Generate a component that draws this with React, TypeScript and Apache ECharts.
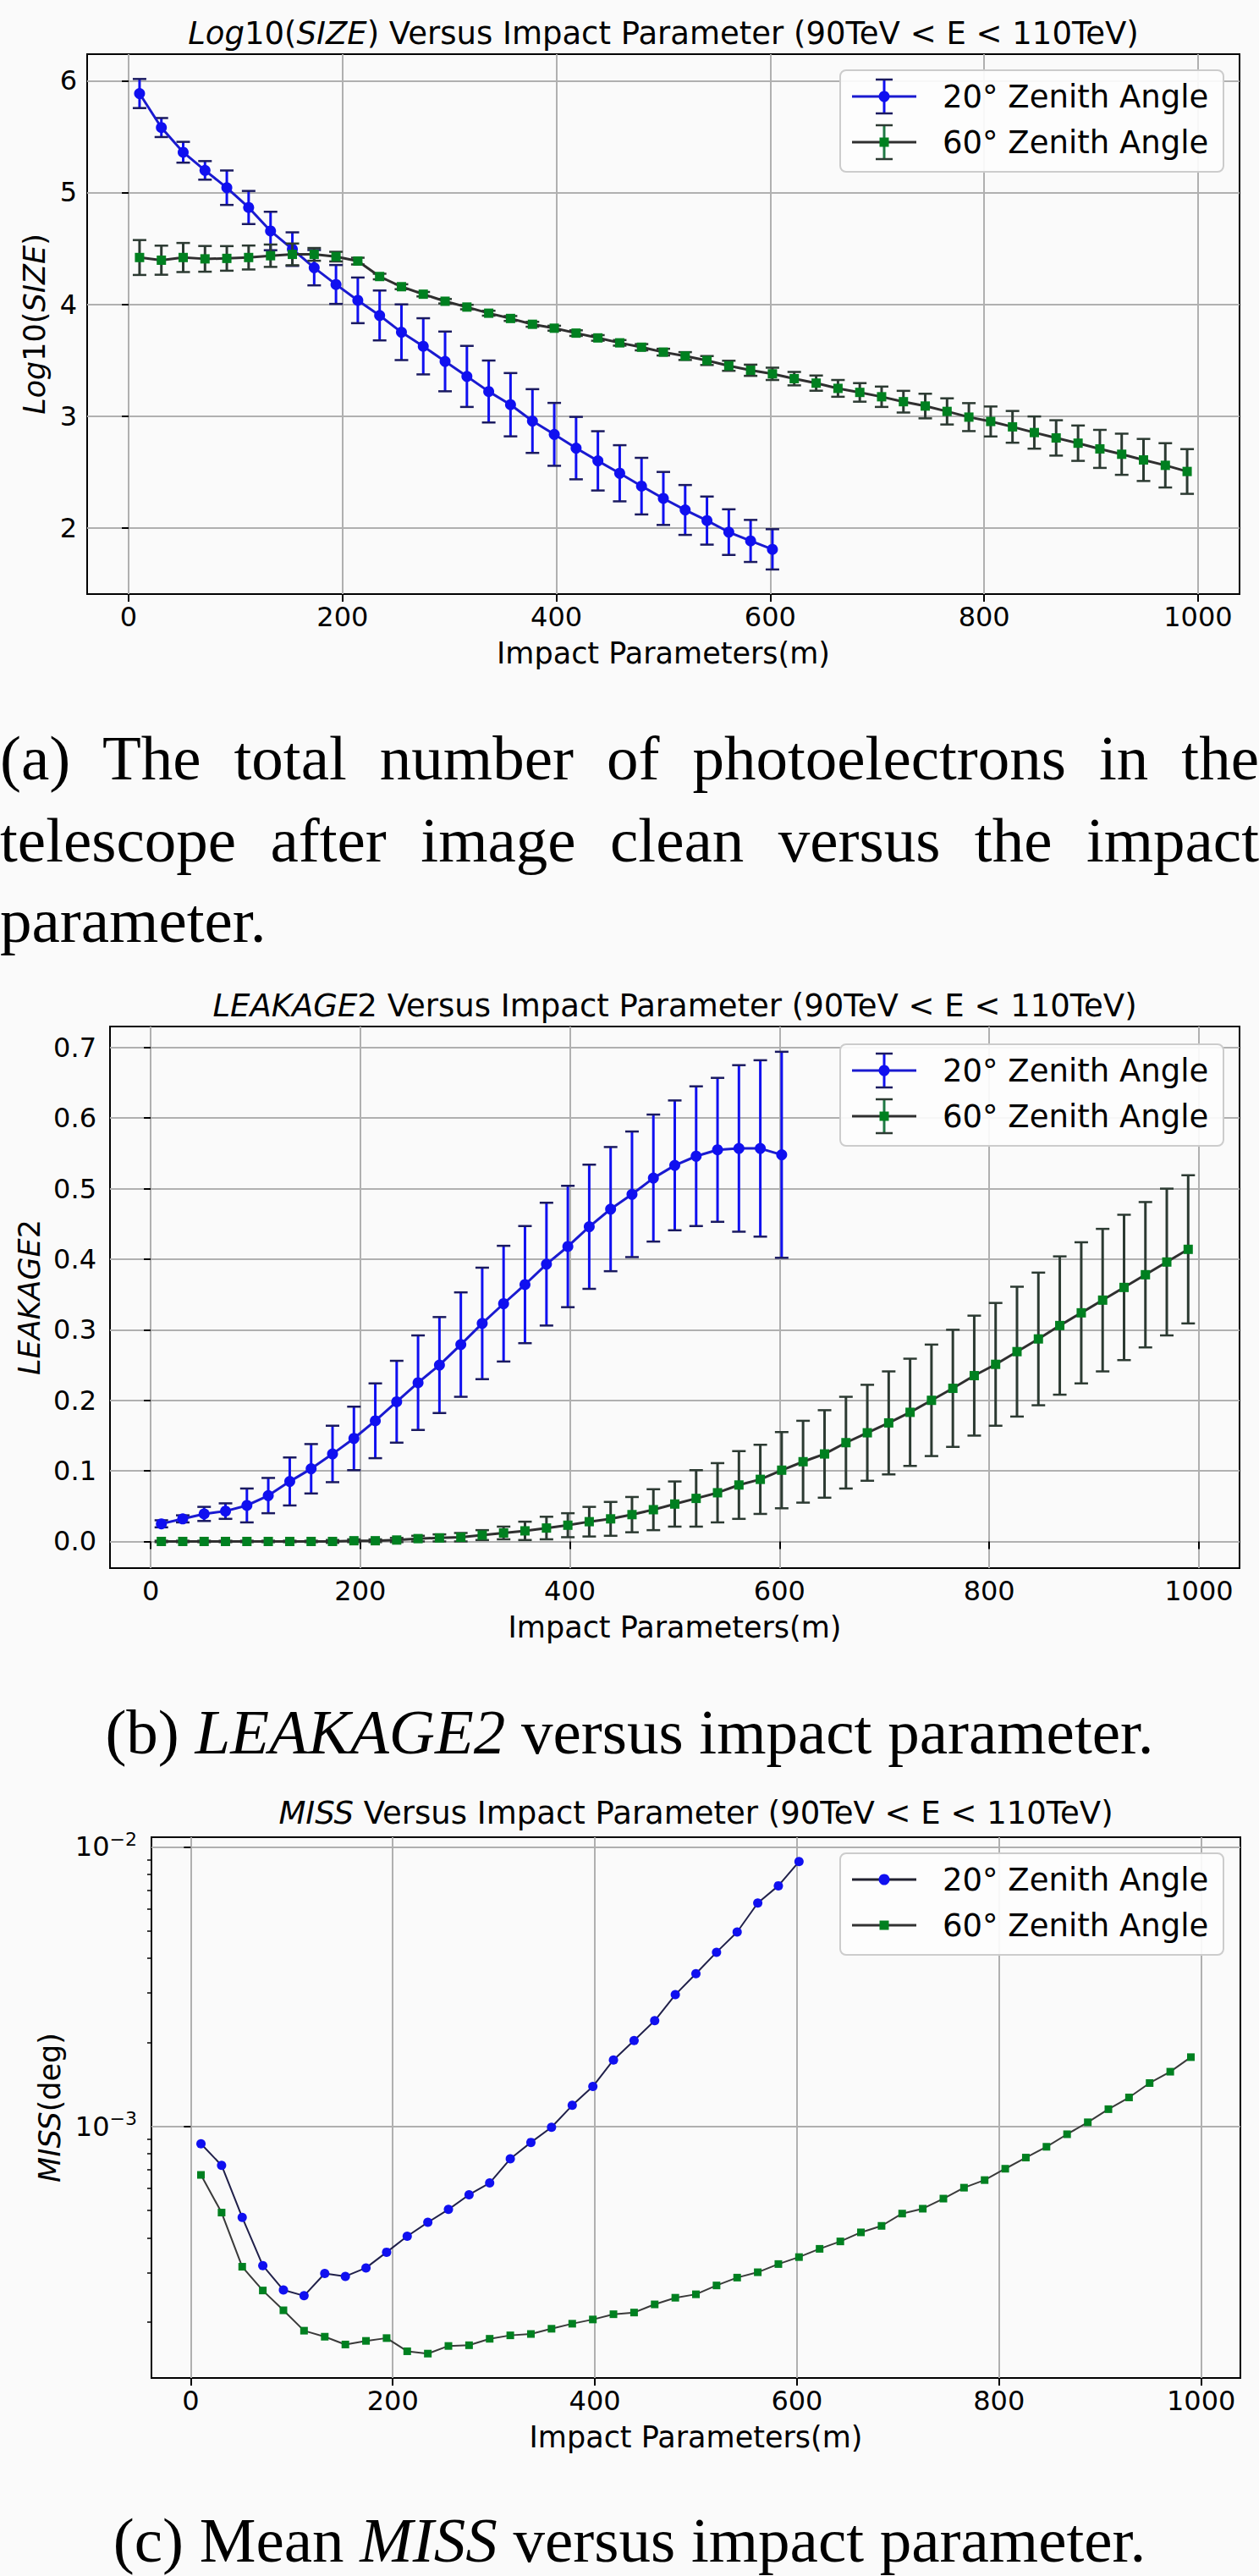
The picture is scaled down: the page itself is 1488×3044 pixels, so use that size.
import React, { useEffect, useRef } from "react";
import * as echarts from "echarts";

// ---------- data ----------
const impact = [10.2, 30.6, 51.0, 71.4, 91.8, 112.2, 132.7, 153.1, 173.5, 193.9, 214.3, 234.7, 255.1, 275.5, 295.9, 316.3, 336.7, 357.1, 377.6, 398.0, 418.4, 438.8, 459.2, 479.6, 500.0, 520.4, 540.8, 561.2, 581.6, 602.0, 622.4, 642.9, 663.3, 683.7, 704.1, 724.5, 744.9, 765.3, 785.7, 806.1, 826.5, 846.9, 867.3, 887.8, 908.2, 928.6, 949.0, 969.4, 989.8];

const size20 = [5.885, 5.581, 5.360, 5.198, 5.043, 4.866, 4.656, 4.494, 4.328, 4.178, 4.036, 3.901, 3.751, 3.625, 3.490, 3.356, 3.221, 3.103, 2.957, 2.838, 2.715, 2.601, 2.490, 2.375, 2.265, 2.162, 2.067, 1.964, 1.885, 1.810];
const size20Err = [0.130, 0.085, 0.093, 0.083, 0.154, 0.148, 0.172, 0.150, 0.158, 0.174, 0.204, 0.223, 0.249, 0.251, 0.267, 0.273, 0.277, 0.283, 0.285, 0.281, 0.279, 0.265, 0.251, 0.253, 0.237, 0.223, 0.215, 0.204, 0.188, 0.180];
const size60 = [4.419, 4.395, 4.419, 4.407, 4.411, 4.419, 4.435, 4.447, 4.447, 4.427, 4.387, 4.249, 4.158, 4.091, 4.028, 3.976, 3.921, 3.874, 3.822, 3.787, 3.743, 3.700, 3.656, 3.617, 3.573, 3.538, 3.498, 3.451, 3.411, 3.379, 3.336, 3.296, 3.249, 3.213, 3.174, 3.130, 3.091, 3.043, 2.992, 2.953, 2.905, 2.854, 2.806, 2.759, 2.708, 2.660, 2.609, 2.561, 2.506];
const size60Err = [0.156, 0.130, 0.130, 0.115, 0.110, 0.107, 0.100, 0.097, 0.057, 0.043, 0.030, 0.025, 0.022, 0.020, 0.020, 0.020, 0.022, 0.022, 0.022, 0.022, 0.025, 0.025, 0.025, 0.028, 0.030, 0.035, 0.040, 0.045, 0.050, 0.055, 0.060, 0.068, 0.075, 0.083, 0.091, 0.097, 0.110, 0.117, 0.125, 0.134, 0.142, 0.144, 0.158, 0.158, 0.170, 0.184, 0.188, 0.198, 0.200];

const leak20 = [0.025, 0.032, 0.039, 0.043, 0.051, 0.065, 0.085, 0.103, 0.124, 0.146, 0.171, 0.198, 0.225, 0.250, 0.279, 0.309, 0.337, 0.364, 0.393, 0.418, 0.446, 0.471, 0.492, 0.515, 0.533, 0.546, 0.555, 0.557, 0.557, 0.548];
const leak20Err = [0.005, 0.005, 0.010, 0.011, 0.024, 0.025, 0.034, 0.035, 0.040, 0.045, 0.053, 0.058, 0.067, 0.068, 0.074, 0.079, 0.082, 0.083, 0.087, 0.086, 0.088, 0.088, 0.089, 0.090, 0.092, 0.099, 0.102, 0.118, 0.125, 0.146];
const leak60 = [0.000, 0.000, 0.000, 0.000, 0.000, 0.000, 0.000, 0.000, 0.000, 0.001, 0.001, 0.002, 0.004, 0.005, 0.006, 0.009, 0.012, 0.015, 0.019, 0.023, 0.028, 0.032, 0.038, 0.045, 0.053, 0.061, 0.069, 0.080, 0.088, 0.101, 0.113, 0.124, 0.140, 0.154, 0.168, 0.183, 0.200, 0.217, 0.235, 0.251, 0.269, 0.287, 0.306, 0.324, 0.342, 0.360, 0.378, 0.396, 0.414];
const leak60Err = [0.001, 0.001, 0.001, 0.001, 0.001, 0.001, 0.001, 0.001, 0.002, 0.002, 0.002, 0.003, 0.004, 0.005, 0.006, 0.007, 0.009, 0.013, 0.016, 0.017, 0.021, 0.024, 0.025, 0.029, 0.032, 0.040, 0.042, 0.048, 0.049, 0.054, 0.058, 0.062, 0.065, 0.068, 0.073, 0.076, 0.079, 0.083, 0.085, 0.087, 0.092, 0.094, 0.098, 0.100, 0.101, 0.103, 0.103, 0.104, 0.105];

const miss20 = [8.67e-4, 7.26e-4, 4.73e-4, 3.18e-4, 2.60e-4, 2.48e-4, 2.98e-4, 2.91e-4, 3.12e-4, 3.55e-4, 4.05e-4, 4.54e-4, 5.05e-4, 5.70e-4, 6.28e-4, 7.66e-4, 8.77e-4, 9.93e-4, 1.19e-3, 1.39e-3, 1.73e-3, 2.03e-3, 2.39e-3, 2.96e-3, 3.52e-3, 4.20e-3, 4.96e-3, 6.30e-3, 7.26e-3, 8.86e-3];
const miss60 = [6.71e-4, 4.92e-4, 3.15e-4, 2.59e-4, 2.20e-4, 1.86e-4, 1.77e-4, 1.66e-4, 1.71e-4, 1.75e-4, 1.57e-4, 1.54e-4, 1.64e-4, 1.65e-4, 1.74e-4, 1.79e-4, 1.81e-4, 1.89e-4, 1.97e-4, 2.04e-4, 2.13e-4, 2.16e-4, 2.31e-4, 2.44e-4, 2.51e-4, 2.70e-4, 2.88e-4, 3.01e-4, 3.22e-4, 3.41e-4, 3.65e-4, 3.88e-4, 4.18e-4, 4.41e-4, 4.88e-4, 5.08e-4, 5.52e-4, 6.04e-4, 6.43e-4, 7.06e-4, 7.74e-4, 8.46e-4, 9.38e-4, 1.035e-3, 1.153e-3, 1.27e-3, 1.43e-3, 1.57e-3, 1.77e-3];

const xTicks = [0, 200, 400, 600, 800, 1000];
const sizeTicks = [2, 3, 4, 5, 6];
const leakTicks = [0, 0.1, 0.2, 0.3, 0.4, 0.5, 0.6, 0.7];
const missTicks = [0.001, 0.01];
const missMinorTicks = [2e-4, 3e-4, 4e-4, 5e-4, 6e-4, 7e-4, 8e-4, 9e-4, 2e-3, 3e-3, 4e-3, 5e-3, 6e-3, 7e-3, 8e-3, 9e-3];
const legendNames = ["20° Zenith Angle", "60° Zenith Angle"];

// ---------- styling ----------
const FONT = '"DejaVu Sans", Verdana, sans-serif';
const SERIF = '"Liberation Serif", "Times New Roman", serif';
const BG = "#fafafa";
const GRIDS = [
  { left: 103, top: 64, right: 1465, bottom: 702 },
  { left: 130, top: 1213, right: 1465, bottom: 1853 },
  { left: 179, top: 2171, right: 1466, bottom: 2810 },
];
const BLUE = "#1010f0";
const BLUE_LINE = "#1a1ad0";
const BLUE_CAP = "#1a1a60";
const GREEN = "#008020";
const DARK_LINE = "#2f2f2f";
const GREEN_ERR = "#2c3a32";
const LZ = 100;

const italicRich = (size: number) => ({
  i: { fontStyle: "italic", fontSize: size, fontFamily: FONT, color: "#000" },
});

function pairs(xs: number[], ys: number[]) {
  return ys.map((y, i) => [xs[i], y]);
}
function errData(xs: number[], ys: number[], es: number[]) {
  return ys.map((y, i) => [xs[i], y - es[i], y + es[i]]);
}

function errSeries(idx: number, data: number[][], bar: string, cap: string, z: number) {
  return {
    type: "custom",
    xAxisIndex: idx,
    yAxisIndex: idx,
    z,
    silent: true,
    encode: { x: 0, y: [1, 2] },
    data,
    renderItem: (_params: any, api: any) => {
      const x = api.value(0);
      const a = api.coord([x, api.value(1)]);
      const b = api.coord([x, api.value(2)]);
      const hw = 8;
      return {
        type: "group",
        children: [
          { type: "line", shape: { x1: a[0], y1: a[1], x2: b[0], y2: b[1] }, style: { stroke: bar, lineWidth: 3 } },
          { type: "line", shape: { x1: a[0] - hw, y1: a[1], x2: a[0] + hw, y2: a[1] }, style: { stroke: cap, lineWidth: 2.5 } },
          { type: "line", shape: { x1: b[0] - hw, y1: b[1], x2: b[0] + hw, y2: b[1] }, style: { stroke: cap, lineWidth: 2.5 } },
        ],
      };
    },
  };
}

function lineSeries(idx: number, name: string, data: number[][], color: string, lineColor: string, symbol: string, size: number, width: number, z: number) {
  return {
    type: "line",
    name,
    xAxisIndex: idx,
    yAxisIndex: idx,
    data,
    z,
    symbol,
    symbolSize: size,
    showSymbol: true,
    showAllSymbol: true,
    itemStyle: { color, borderWidth: 0 },
    lineStyle: { color: lineColor, width },
    emphasis: { disabled: true },
  };
}

type Row = { name: string; line: string; marker: string; shape: "circle" | "rect"; err?: { bar: string; cap: string } };
function legendGroup(top: number, rows: Row[]) {
  const children: any[] = [
    {
      type: "rect",
      z: LZ,
      shape: { x: 0, y: 0, width: 453, height: 120, r: 7 },
      style: { fill: "rgba(253,253,253,0.92)", stroke: "#cccccc", lineWidth: 2 },
    },
  ];
  rows.forEach((r, k) => {
    const y = 31 + 54 * k;
    const cx = 52;
    children.push({ type: "line", z: LZ + 1, shape: { x1: 14, y1: y, x2: 90, y2: y }, style: { stroke: r.line, lineWidth: 3 } });
    if (r.err) {
      children.push({ type: "line", z: LZ + 1, shape: { x1: cx, y1: y - 20, x2: cx, y2: y + 20 }, style: { stroke: r.err.bar, lineWidth: 3 } });
      children.push({ type: "line", z: LZ + 1, shape: { x1: cx - 10, y1: y - 20, x2: cx + 10, y2: y - 20 }, style: { stroke: r.err.cap, lineWidth: 2.5 } });
      children.push({ type: "line", z: LZ + 1, shape: { x1: cx - 10, y1: y + 20, x2: cx + 10, y2: y + 20 }, style: { stroke: r.err.cap, lineWidth: 2.5 } });
    }
    if (r.shape === "circle") {
      children.push({ type: "circle", z: LZ + 2, shape: { cx, cy: y, r: 6.5 }, style: { fill: r.marker } });
    } else {
      children.push({ type: "rect", z: LZ + 2, shape: { x: cx - 5.5, y: y - 5.5, width: 11, height: 11 }, style: { fill: r.marker } });
    }
    children.push({
      type: "text",
      z: LZ + 2,
      x: 121,
      y,
      style: { text: r.name, fontSize: 37, fontFamily: FONT, fill: "#000", verticalAlign: "middle", align: "left" },
    });
  });
  return { type: "group", x: 993, y: top, z: LZ, children };
}

function xAxisFor(idx: number) {
  return {
    type: "value",
    gridIndex: idx,
    min: -38.8,
    max: 1038.8,
    axisLine: { show: false },
    axisTick: { show: true, customValues: xTicks, length: 9, lineStyle: { color: "#000", width: 2 } },
    axisLabel: {
      customValues: xTicks,
      fontSize: 32,
      color: "#000",
      fontFamily: FONT,
      margin: 11,
      formatter: (v: number) => String(v),
    },
    splitLine: { show: true, lineStyle: { color: "#b0b0b0", width: 2 } },
    name: "Impact Parameters(m)",
    nameLocation: "middle",
    nameGap: 52,
    nameTextStyle: { fontSize: 35, color: "#000", fontFamily: FONT },
  };
}

function titleFor(text: string, grid: { left: number; right: number }, top: number) {
  return {
    text,
    left: (grid.left + grid.right) / 2,
    top,
    textAlign: "center",
    padding: 0,
    textStyle: {
      fontSize: 37,
      fontWeight: "normal",
      fontFamily: FONT,
      color: "#000",
      lineHeight: 44,
      rich: { i: { fontStyle: "italic", fontSize: 37, fontFamily: FONT, color: "#000", lineHeight: 44 } },
    },
  };
}

function buildOption() {
  const missMin = 1.26e-4;
  const missMax = 1.083e-2;
  return {
    animation: false,
    backgroundColor: "transparent",
    title: [
      titleFor("{i|Log}10({i|SIZE}) Versus Impact Parameter (90TeV < E < 110TeV)", GRIDS[0], 17),
      titleFor("{i|LEAKAGE}2 Versus Impact Parameter (90TeV < E < 110TeV)", GRIDS[1], 1166),
      titleFor("{i|MISS} Versus Impact Parameter (90TeV < E < 110TeV)", GRIDS[2], 2120),
    ],
    grid: GRIDS.map((g) => ({
      left: g.left,
      top: g.top,
      width: g.right - g.left,
      height: g.bottom - g.top,
      show: true,
      backgroundColor: "transparent",
      borderColor: "#000",
      borderWidth: 2,
      containLabel: false,
      outerBoundsMode: "none",
    })),
    xAxis: [xAxisFor(0), xAxisFor(1), xAxisFor(2)],
    yAxis: [
      {
        type: "value",
        gridIndex: 0,
        min: 1.41,
        max: 6.237,
        axisLine: { show: false },
        axisTick: { show: true, customValues: sizeTicks, length: 8, lineStyle: { color: "#000", width: 2 } },
        axisLabel: { customValues: sizeTicks, fontSize: 32, color: "#000", fontFamily: FONT, margin: 12, formatter: (v: number) => String(v) },
        splitLine: { show: true, lineStyle: { color: "#b0b0b0", width: 2 } },
        name: "{i|Log}10({i|SIZE})",
        nameLocation: "middle",
        nameGap: 45,
        nameTextStyle: { fontSize: 35, color: "#000", fontFamily: FONT, rich: italicRich(35) },
      },
      {
        type: "value",
        gridIndex: 1,
        min: -0.0378,
        max: 0.7298,
        axisLine: { show: false },
        axisTick: { show: true, customValues: leakTicks, length: 8, lineStyle: { color: "#000", width: 2 } },
        axisLabel: {
          customValues: leakTicks,
          fontSize: 32,
          color: "#000",
          fontFamily: FONT,
          margin: 16,
          formatter: (v: number) => v.toFixed(1),
        },
        splitLine: { show: true, lineStyle: { color: "#b0b0b0", width: 2 } },
        name: "{i|LEAKAGE}2",
        nameLocation: "middle",
        nameGap: 77,
        nameTextStyle: { fontSize: 35, color: "#000", fontFamily: FONT, rich: italicRich(35) },
      },
      {
        type: "log",
        logBase: 10,
        gridIndex: 2,
        position: "left",
        min: missMin,
        max: missMax,
        axisLine: { show: false },
        axisTick: { show: true, customValues: missTicks, length: 8, lineStyle: { color: "#000", width: 2 } },
        axisLabel: {
          customValues: missTicks,
          color: "#000",
          margin: 17,
          formatter: (v: number) => `{b|10}{s|−${Math.round(-Math.log10(v))}}`,
          rich: {
            b: { fontSize: 32, fontFamily: FONT, color: "#000", lineHeight: 40 },
            s: { fontSize: 22, fontFamily: FONT, color: "#000", lineHeight: 24, verticalAlign: "top" },
          },
        },
        splitLine: { show: true, lineStyle: { color: "#b0b0b0", width: 2 } },
        name: "{i|MISS}(deg)",
        nameLocation: "middle",
        nameGap: 103,
        nameTextStyle: { fontSize: 35, color: "#000", fontFamily: FONT, rich: italicRich(35) },
      },
      {
        type: "log",
        logBase: 10,
        gridIndex: 2,
        position: "left",
        offset: 0,
        min: missMin,
        max: missMax,
        axisLine: { show: false },
        axisTick: { show: true, customValues: missMinorTicks, length: 5, lineStyle: { color: "#000", width: 1.5 } },
        axisLabel: { show: false },
        splitLine: { show: false },
      },
    ],
    graphic: [
      legendGroup(GRIDS[0].top + 19, [
        { name: legendNames[0], line: BLUE_LINE, marker: BLUE, shape: "circle", err: { bar: BLUE, cap: BLUE_CAP } },
        { name: legendNames[1], line: DARK_LINE, marker: GREEN, shape: "rect", err: { bar: "#1f7a45", cap: GREEN_ERR } },
      ]),
      legendGroup(GRIDS[1].top + 21, [
        { name: legendNames[0], line: BLUE_LINE, marker: BLUE, shape: "circle", err: { bar: BLUE, cap: BLUE_CAP } },
        { name: legendNames[1], line: DARK_LINE, marker: GREEN, shape: "rect", err: { bar: "#1f7a45", cap: GREEN_ERR } },
      ]),
      legendGroup(GRIDS[2].top + 19, [
        { name: legendNames[0], line: "#222230", marker: BLUE, shape: "circle" },
        { name: legendNames[1], line: "#333333", marker: GREEN, shape: "rect" },
      ]),
    ],
    series: [
      // (a)
      errSeries(0, errData(impact, size20, size20Err), BLUE, BLUE_CAP, 2),
      lineSeries(0, legendNames[0], pairs(impact, size20), BLUE, BLUE_LINE, "circle", 13, 3, 3),
      errSeries(0, errData(impact, size60, size60Err), GREEN_ERR, GREEN_ERR, 4),
      lineSeries(0, legendNames[1], pairs(impact, size60), GREEN, DARK_LINE, "rect", 11, 3, 5),
      // (b)
      errSeries(1, errData(impact, leak20, leak20Err), BLUE, BLUE_CAP, 2),
      lineSeries(1, legendNames[0], pairs(impact, leak20), BLUE, BLUE_LINE, "circle", 13, 3, 3),
      errSeries(1, errData(impact, leak60, leak60Err), GREEN_ERR, GREEN_ERR, 4),
      lineSeries(1, legendNames[1], pairs(impact, leak60), GREEN, DARK_LINE, "rect", 11, 3, 5),
      // (c)
      lineSeries(2, legendNames[0], pairs(impact, miss20), BLUE, "#20204a", "circle", 11, 2, 3),
      lineSeries(2, legendNames[1], pairs(impact, miss60), GREEN, "#3a3a3a", "rect", 9, 2, 5),
    ],
  };
}

const capBase: React.CSSProperties = {
  position: "absolute",
  left: 0,
  width: 1488,
  margin: 0,
  fontFamily: SERIF,
  fontSize: 75,
  lineHeight: "96px",
  color: "#000",
  whiteSpace: "nowrap",
};
const justified: React.CSSProperties = { ...capBase, textAlign: "justify", textAlignLast: "justify" as any, whiteSpace: "normal" };

export default function App() {
  const ref = useRef<HTMLDivElement>(null);
  useEffect(() => {
    if (!ref.current) return;
    const chart = echarts.init(ref.current, undefined, { renderer: "svg" });
    chart.setOption(buildOption() as any);
    return () => chart.dispose();
  }, []);
  return (
    <div style={{ position: "absolute", left: 0, top: 0, width: 1488, height: 3044, background: BG, overflow: "hidden" }}>
      <div ref={ref} style={{ position: "absolute", left: 0, top: 0, width: 1488, height: 3044 }} />
      <div style={{ ...justified, top: 848 }}>(a) The total number of photoelectrons in the</div>
      <div style={{ ...justified, top: 945 }}>telescope after image clean versus the impact</div>
      <div style={{ ...capBase, top: 1040, textAlign: "left" }}>parameter.</div>
      <div style={{ ...capBase, top: 1999, textAlign: "center" }}>
        (b) <i>LEAKAGE2</i> versus impact parameter.
      </div>
      <div style={{ ...capBase, top: 2954, textAlign: "center" }}>
        (c) Mean <i>MISS</i> versus impact parameter.
      </div>
    </div>
  );
}
